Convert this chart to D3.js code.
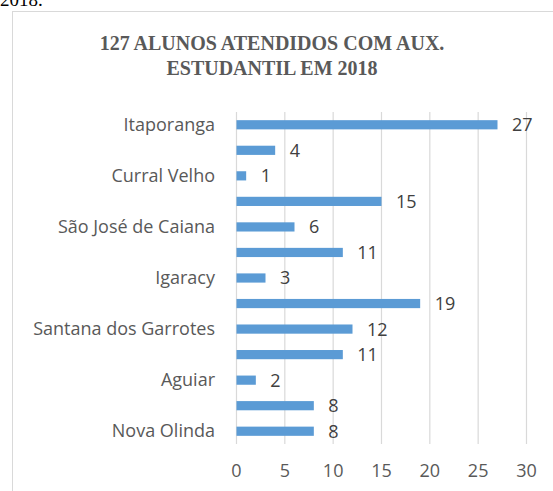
<!DOCTYPE html>
<html>
<head>
<meta charset="utf-8">
<script src="https://cdn.jsdelivr.net/npm/d3@7"></script>
<style>
  body { margin: 0; background: #fff; overflow: hidden; }
  svg { display: block; }
</style>
</head>
<body>
<script>
'use strict'

// categories from top to bottom (Excel only labels every other one)
const categories = ['Itaporanga', '', 'Curral Velho', '', 'São José de Caiana', '', 'Igaracy',
    '', 'Santana dos Garrotes', '', 'Aguiar', '', 'Nova Olinda']
const values = [27, 4, 1, 15, 6, 11, 3, 19, 12, 11, 2, 8, 8]
const xTicks = [0, 5, 10, 15, 20, 25, 30]
const titleLines = ['127 ALUNOS ATENDIDOS COM AUX.', 'ESTUDANTIL EM 2018']

const width = 553
const height = 491
const plot = { left: 236, right: 526, top: 112, bottom: 444 }
const sans = '"Open Sans", "DejaVu Sans", sans-serif'
const serif = '"Liberation Serif", "Times New Roman", serif'

const svg = d3.select('body').append('svg').attr('width', width).attr('height', height)

// text fragment above the chart frame
svg.append('text')
    .attr('x', 0).attr('y', 6)
    .style('font-family', serif)
    .style('font-size', '19px')
    .attr('fill', '#000')
    .text('2018.')

// chart frame
svg.append('rect')
    .attr('x', 12.5).attr('y', 11.5)
    .attr('width', 560).attr('height', 500)
    .attr('fill', '#fff')
    .attr('stroke', '#d9d9d9')

const title = svg.append('text')
    .attr('text-anchor', 'middle')
    .style('font-family', serif)
    .style('font-weight', 'bold')
    .style('font-size', '20px')
    .attr('fill', '#595959')
titleLines.forEach((t, i) => {
    title.append('tspan').attr('x', 272).attr('y', 50 + i * 24.5).text(t)
})

const x = d3.scaleLinear().domain([0, 30]).range([plot.left, plot.right])
const y = d3.scaleBand().domain(d3.range(categories.length)).range([plot.top, plot.bottom]).paddingInner(0.64).paddingOuter(0.32)

// gridlines
svg.append('g')
    .selectAll('line')
    .data(xTicks)
    .join('line')
    .attr('x1', d => x(d) + 0.5).attr('x2', d => x(d) + 0.5)
    .attr('y1', plot.top).attr('y2', plot.bottom)
    .attr('stroke', '#d9d9d9')
    .attr('stroke-width', 1.2)

// x axis labels
const xAxis = svg.append('g')
    .attr('transform', `translate(0,${plot.bottom})`)
    .call(d3.axisBottom(x).tickValues(xTicks).tickSize(0).tickPadding(20))
xAxis.select('.domain').remove()
xAxis.selectAll('text')
    .style('font-family', sans)
    .style('font-size', '18px')
    .attr('fill', '#595959')

// category labels
const yAxis = svg.append('g')
    .attr('transform', `translate(${plot.left},0)`)
    .call(d3.axisLeft(y).tickFormat(i => categories[i]).tickSize(0).tickPadding(21))
yAxis.select('.domain').remove()
yAxis.selectAll('text')
    .style('font-family', sans)
    .style('font-size', '18px')
    .attr('fill', '#595959')

// bars
svg.append('g')
    .selectAll('rect')
    .data(values)
    .join('rect')
    .attr('x', x(0) + 0.5)
    .attr('y', (d, i) => y(i))
    .attr('width', d => x(d) - x(0))
    .attr('height', y.bandwidth())
    .attr('fill', '#5b9bd5')

// value labels
svg.append('g')
    .selectAll('text')
    .data(values)
    .join('text')
    .attr('x', d => x(d) + 15)
    .attr('y', (d, i) => y(i) + y.bandwidth() / 2)
    .attr('dy', '0.36em')
    .style('font-family', sans)
    .style('font-size', '18px')
    .attr('fill', '#404040')
    .text(d => d)
</script>
</body>
</html>
